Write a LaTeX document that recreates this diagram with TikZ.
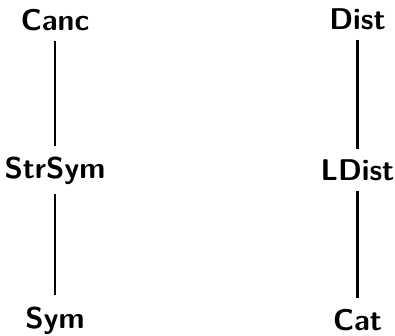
\documentclass[tikz,border=0pt]{standalone}
\tikzset{
  lbl/.style={font=\fontsize{30}{36}\selectfont\sffamily\bfseries, inner sep=0pt, anchor=base},
  link/.style={line width=2.3pt, shorten <=9pt, shorten >=11pt}
}
\begin{document}
\begin{tikzpicture}[x=1pt,y=1pt]
\useasboundingbox (0,0) rectangle (395,-336);
\node[lbl] (canc) at (55,-31) {Canc};
\node[lbl] (strsym) at (55,-179) {StrSym};
\node[lbl] (sym) at (55,-328) {Sym};
\node[lbl] (dist) at (357.5,-30) {Dist};
\node[lbl] (ldist) at (357.5,-181) {LDist};
\node[lbl] (cat) at (357.5,-330) {Cat};
\draw[link] (canc.south) -- (strsym.north);
\draw[link] (strsym.south) -- (sym.north);
\draw[link] (dist.south) -- (ldist.north);
\draw[link] (ldist.south) -- (cat.north);
\end{tikzpicture}
\end{document}
